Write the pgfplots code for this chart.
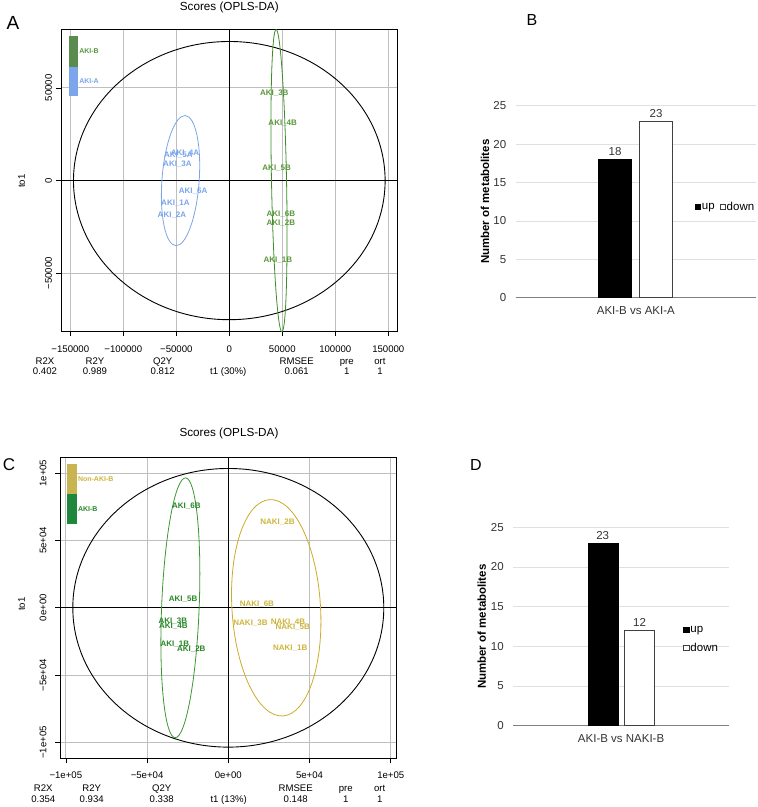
\documentclass[border=0pt]{standalone}
\usepackage{fontspec}
\setmainfont{Liberation Sans}
\usepackage{pgfplots}
\pgfplotsset{compat=1.18}
\usepackage{pgfplotstable}

\definecolor{akiAtxt}{RGB}{120,165,235}
\definecolor{akiAell}{RGB}{125,165,230}
\definecolor{akiArect}{RGB}{125,165,235}
\definecolor{akiBtxtA}{RGB}{90,150,60}
\definecolor{akiBellA}{RGB}{60,140,40}
\definecolor{akiBrectA}{RGB}{90,140,80}
\definecolor{akiBtxtC}{RGB}{40,135,40}
\definecolor{akiBellC}{RGB}{60,150,50}
\definecolor{akiBrectC}{RGB}{30,135,60}
\definecolor{nakiTxt}{RGB}{205,180,60}
\definecolor{nakiEll}{RGB}{205,170,40}
\definecolor{nakiRect}{RGB}{200,180,80}

\newcommand{\statfont}{\fontsize{9.6}{11}\selectfont}
\newcommand{\titlefont}{\fontsize{11.7}{13}\selectfont}
\newcommand{\lblfont}{\fontsize{8}{9}\selectfont\bfseries}
\newcommand{\legfont}{\fontsize{7}{8}\selectfont\bfseries}
\newcommand{\barfont}{\fontsize{11.5}{13}\selectfont}

\pgfplotstableread{
x y label
-41800 14900 AKI\_4A
-48100 13500 AKI\_5A
-48900 8600 AKI\_3A
-34100 -5900 AKI\_6A
-50800 -12400 AKI\_1A
-54100 -18500 AKI\_2A
}\tblAkiA
\pgfplotstableread{
x y label
42450 46900 AKI\_3B
50400 30750 AKI\_4B
44700 6700 AKI\_5B
48600 -18300 AKI\_6B
48600 -23000 AKI\_2B
45800 -42800 AKI\_1B
}\tblAkiBa
\pgfplotstableread{
x y label
-25800 75500 AKI\_6B
-27800 6400 AKI\_5B
-34100 -10000 AKI\_3B
-33800 -13700 AKI\_4B
-32900 -27000 AKI\_1B
-22800 -30800 AKI\_2B
}\tblAkiBc
\pgfplotstableread{
x y label
30300 63600 NAKI\_2B
17600 3000 NAKI\_6B
13700 -11100 NAKI\_3B
36700 -10400 NAKI\_4B
39700 -14100 NAKI\_5B
38100 -29700 NAKI\_1B
}\tblNaki

\pgfplotsset{
  scorebase/.style={
    anchor=south west, scale only axis,
    scaled ticks=false, tick pos=left, tick align=outside, major tick length=5pt,
    tick style={black, line width=0.6pt},
    grid=major, grid style={black!25, line width=0.8pt},
    axis line style={black, line width=1pt},
    ticklabel style={font=\statfont},
    xticklabel style={anchor=north},
    yticklabel style={rotate=90, anchor=south},
  },
  lbls/.style={only marks, mark=none,
    nodes near coords, point meta=explicit symbolic,
    every node near coord/.style={anchor=center, inner sep=0pt, font=\lblfont, text=#1}},
  barbase/.style={
    anchor=south west, scale only axis,
    ymin=0, ymax=25, ytick={0,5,10,15,20,25},
    axis x line=bottom, axis y line=left,
    x axis line style={-, draw=black!50, line width=1pt},
    y axis line style={draw=none},
    major tick length=0pt,
    ymajorgrids, grid style={black!12, line width=0.7pt},
    ticklabel style={font=\barfont, text=black!80},
    /pgf/number format/assume math mode=true,
    xticklabel style={yshift=-5pt},
    yticklabel style={xshift=-6pt},
    clip=false, legend cell align=left,
  },
  sqleg/.style={legend image code/.code={\draw[##1, line width=0.6pt] (0pt,-2.7pt) rectangle (5.4pt,2.7pt);}},
  barval/.style={nodes near coords, every node near coord/.append style={font=\barfont, text=black!80}},
}

\begin{document}
\begin{tikzpicture}
\path[use as bounding box] (0pt,0pt) rectangle (758pt,807pt);

% ---------------- Panel A ----------------
\begin{axis}[scorebase,
  at={(61.3pt,475.8pt)}, width=336pt, height=301.2pt,
  xmin=-158500, xmax=158500, ymin=-81200, ymax=81200,
  xtick={-150000,-100000,-50000,0,50000,100000,150000},
  xticklabels={−150000,−100000,−50000,0,50000,100000,150000},
  ytick={-50000,0,50000}, yticklabels={−50000,0,50000},
  xticklabel shift=6pt, yticklabel shift=0.7pt,
]
\draw[black, line width=0.9pt] (axis cs:0,-81200) -- (axis cs:0,81200);
\draw[black, line width=0.9pt] (axis cs:-158500,0) -- (axis cs:158500,0);
\draw[black, line width=0.9pt] (axis cs:0,0) ellipse [x radius=147000, y radius=75000];
\draw[akiAell, line width=0.8pt, rotate around={-4.2:(axis cs:-46000,0)}] (axis cs:-46000,0) ellipse [x radius=17550, y radius=35170];
\draw[akiBellA, line width=0.8pt, rotate around={1.1:(axis cs:46900,0)}] (axis cs:46900,0) ellipse [x radius=7100, y radius=81500];
\addplot[lbls=akiAtxt] table[x=x, y=y, meta=label] {\tblAkiA};
\addplot[lbls=akiBtxtA] table[x=x, y=y, meta=label] {\tblAkiBa};
\fill[akiBrectA] (axis cs:-151500,61500) rectangle (axis cs:-142500,77700);
\fill[akiArect] (axis cs:-151500,45700) rectangle (axis cs:-142500,61500);
\node[anchor=west, inner sep=0.5pt, font=\legfont, text=akiBtxtA] at (axis cs:-142200,69600) {AKI-B};
\node[anchor=west, inner sep=0.5pt, font=\legfont, text=akiAtxt] at (axis cs:-142200,53800) {AKI-A};
\end{axis}
\node[font=\titlefont] at (229.3pt,800pt) {Scores (OPLS-DA)};
\node[font=\fontsize{19}{21}\selectfont] at (13pt,784pt) {A};
\node[font=\statfont, rotate=90] at (21.7pt,626pt) {to1};
\foreach \xx/\a/\b in {45/R2X/0.402, 95/R2Y/0.989, 162.7/Q2Y/0.812, 296.7/RMSEE/0.061, 346.7/pre/1, 380/ort/1}{
  \node[font=\statfont, anchor=base, inner sep=0pt] at (\xx pt,442.5pt) {\a};
  \node[font=\statfont, anchor=base, inner sep=0pt] at (\xx pt,432.5pt) {\b};
}
\node[font=\statfont, anchor=base, inner sep=0pt] at (228.3pt,432.5pt) {t1 (30\%)};

% ---------------- Panel C ----------------
\begin{axis}[scorebase,
  at={(60.3pt,48.7pt)}, width=336pt, height=301pt,
  xmin=-103400, xmax=103400, ymin=-111800, ymax=111800,
  xtick={-100000,-50000,0,50000,100000},
  xticklabels={−1e+05,−5e+04,0e+00,5e+04,1e+05},
  ytick={-100000,-50000,0,50000,100000},
  yticklabels={−1e+05,−5e+04,0e+00,5e+04,1e+05},
  xticklabel shift=5.4pt, yticklabel shift=5.3pt,
]
\draw[black, line width=0.9pt] (axis cs:0,-111800) -- (axis cs:0,111800);
\draw[black, line width=0.9pt] (axis cs:-103400,0) -- (axis cs:103400,0);
\draw[black, line width=0.9pt] (axis cs:0,0) ellipse [x radius=95700, y radius=103500];
\draw[akiBellC, line width=0.8pt, rotate around={-2.3:(axis cs:-29500,0)}] (axis cs:-29500,0) ellipse [x radius=11560, y radius=96600];
\draw[nakiEll, line width=0.8pt, rotate around={3.5:(axis cs:29500,0)}] (axis cs:29500,0) ellipse [x radius=27250, y radius=80500];
\addplot[lbls=akiBtxtC] table[x=x, y=y, meta=label] {\tblAkiBc};
\addplot[lbls=nakiTxt] table[x=x, y=y, meta=label] {\tblNaki};
\fill[nakiRect] (axis cs:-99000,84700) rectangle (axis cs:-93100,107000);
\fill[akiBrectC] (axis cs:-99000,62400) rectangle (axis cs:-93100,84700);
\node[anchor=west, inner sep=0.5pt, font=\legfont, text=nakiTxt] at (axis cs:-92900,95500) {Non-AKI-B};
\node[anchor=west, inner sep=0.5pt, font=\legfont, text=akiBtxtC] at (axis cs:-92900,73300) {AKI-B};
\end{axis}
\node[font=\titlefont] at (229pt,373.7pt) {Scores (OPLS-DA)};
\node[font=\fontsize{17}{19}\selectfont] at (9pt,342pt) {C};
\node[font=\statfont, rotate=90] at (21.7pt,203pt) {to1};
\foreach \xx/\a/\b in {43.3/R2X/0.354, 91.7/R2Y/0.934, 161.7/Q2Y/0.338, 295.7/RMSEE/0.148, 345.7/pre/1, 379.7/ort/1}{
  \node[font=\statfont, anchor=base, inner sep=0pt] at (\xx pt,15.8pt) {\a};
  \node[font=\statfont, anchor=base, inner sep=0pt] at (\xx pt,4.2pt) {\b};
}
\node[font=\statfont, anchor=base, inner sep=0pt] at (228.7pt,4.2pt) {t1 (13\%)};

% ---------------- Panel B ----------------
\begin{axis}[barbase,
  at={(515.7pt,509.3pt)}, width=240.3pt, height=192pt,
  xmin=-120, xmax=120, xtick={0}, xticklabels={AKI-B vs AKI-A},
  legend style={at={(0.745,0.474)}, anchor=west, draw=none, fill=none,
    legend columns=2, font=\barfont, inner sep=0pt,
    nodes={inner xsep=1pt},
    /tikz/every odd column/.append style={column sep=0pt},
    /tikz/every even column/.append style={column sep=4pt}},
]
\addplot[ybar, bar shift=0pt, bar width=33pt, fill=black, draw=black, sqleg, barval] coordinates {(-20.7,18)};
\addlegendentry{up}
\addplot[ybar, bar shift=0pt, bar width=33.5pt, fill=white, draw=black!75, line width=0.8pt, sqleg, barval] coordinates {(20.2,23)};
\addlegendentry{down}
\end{axis}
\node[font=\barfont\bfseries, rotate=90] at (485pt,605.3pt) {Number of metabolites};
\node[font=\fontsize{16}{18}\selectfont] at (532pt,787pt) {B};

% ---------------- Panel D ----------------
\begin{axis}[barbase,
  at={(513.3pt,81.3pt)}, width=216pt, height=198.4pt,
  xmin=-107.8, xmax=108.2, xtick={0}, xticklabels={AKI-B vs NAKI-B},
  legend style={at={(0.787,0.435)}, anchor=west, draw=none, fill=none,
    legend columns=1, font=\barfont, inner sep=0pt, row sep=5pt,
    nodes={inner xsep=1pt}},
]
\addplot[ybar, bar shift=0pt, bar width=30pt, fill=black, draw=black, sqleg, barval] coordinates {(-18.4,23)};
\addlegendentry{up}
\addplot[ybar, bar shift=0pt, bar width=30.4pt, fill=white, draw=black!75, line width=0.8pt, sqleg, barval] coordinates {(18.4,12)};
\addlegendentry{down}
\end{axis}
\node[font=\barfont\bfseries, rotate=90] at (481.7pt,180.3pt) {Number of metabolites};
\node[font=\fontsize{16}{18}\selectfont] at (476pt,342pt) {D};
\end{tikzpicture}
\end{document}
